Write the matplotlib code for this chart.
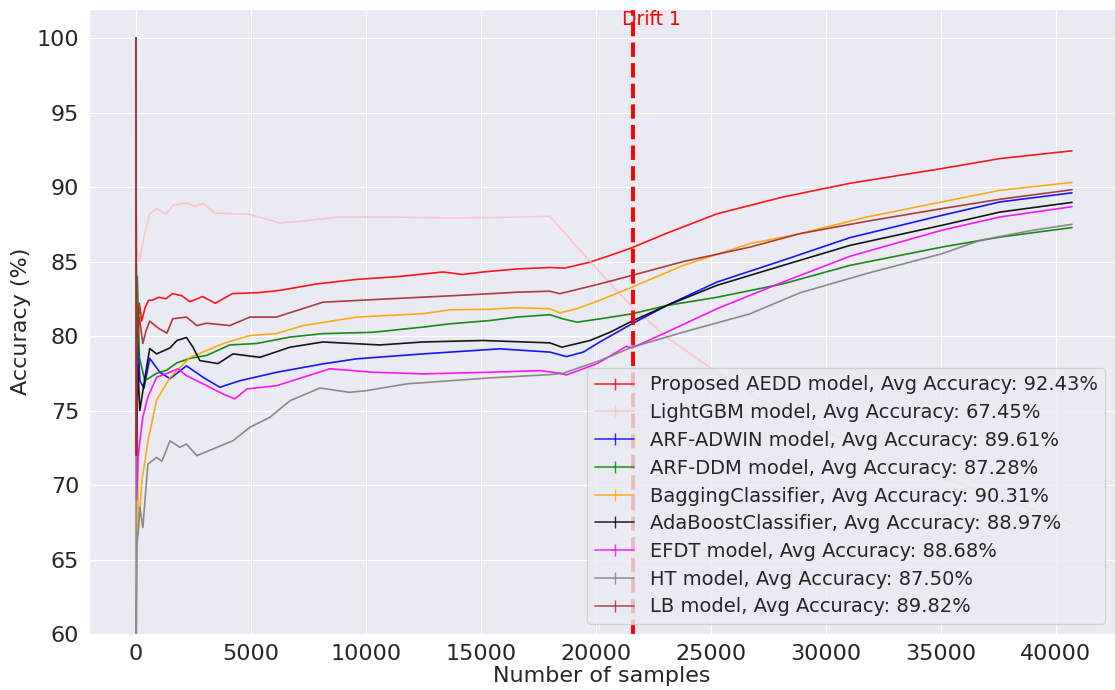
import matplotlib
matplotlib.use("Agg")
import matplotlib.pyplot as plt
from matplotlib.lines import Line2D
import seaborn as sns

# accuracy curves (samples, accuracy %)
aedd_x = [0, 20, 60, 100, 150, 250, 400, 550, 700, 1000, 1300, 1600, 2000, 2350, 2900, 3450, 4200, 5250,
          6250, 7870, 9600, 11500, 13350, 14200, 15100, 16550, 18000, 18650, 19740, 20600, 21570, 23080,
          25260, 28130, 31040, 35040, 37570, 40700]
aedd_y = [100, 76, 82, 80.6, 82.2, 81.0, 81.9, 82.4, 82.4, 82.6, 82.5, 82.85, 82.7, 82.3, 82.65, 82.2, 82.85, 82.9,
          83.06, 83.5, 83.8, 84.0, 84.3, 84.13, 84.3, 84.5, 84.6, 84.56, 84.96, 85.4, 85.93, 86.9,
          88.2, 89.33, 90.25, 91.24, 91.91, 92.43]

lgbm_x = [0, 15, 50, 150, 390, 600, 900, 1330, 1600, 2200, 2560, 2920, 3430, 4220, 4950, 6260, 7570, 8870,
          11040, 13650, 15400, 16550, 18000, 19450, 20900, 21570, 23080, 25260, 28130, 34220, 40700]
lgbm_y = [100, 90, 85.75, 85, 86.9, 88.2, 88.55, 88.2, 88.77, 88.93, 88.7, 88.89, 88.26, 88.2, 88.17, 87.58, 87.76, 87.99,
          87.99, 87.92, 87.95, 87.99, 88.03, 85.52, 83.06, 81.98, 79.92, 77.57, 74.77, 70.96, 67.45]

adwin_x = [0, 20, 80, 170, 350, 600, 1040, 1480, 2200, 2920, 3650, 4520, 6130, 8130, 9600, 12480, 13650, 15830,
           18000, 18720, 19450, 20170, 21570, 23080, 25260, 28130, 31040, 35040, 37570, 40700]
adwin_y = [100, 72, 80, 77, 76.5, 78.5, 77.57, 77.14, 78.0, 77.23, 76.56, 77.0, 77.57, 78.13, 78.47, 78.8, 78.92, 79.14,
           78.92, 78.62, 78.92, 79.6, 80.82, 82.05, 83.62, 85.08, 86.6, 88.1, 89.0, 89.61]

ddm_x = [0, 20, 60, 150, 390, 900, 1330, 1780, 2350, 3080, 4080, 5250, 6700, 8130, 10300, 12480, 13650, 15400,
         16550, 18000, 18570, 19170, 20170, 21570, 23080, 25260, 28130, 31040, 35040, 37570, 40700]
ddm_y = [100, 80, 84, 78.56, 77, 77.5, 77.7, 78.2, 78.5, 78.7, 79.4, 79.5, 79.93, 80.16, 80.25, 80.6, 80.82, 81.04,
         81.27, 81.43, 81.15, 80.93, 81.15, 81.49, 82.05, 82.6, 83.5, 84.74, 85.97, 86.64, 87.28]

bag_x = [0, 20, 100, 260, 530, 900, 1480, 2350, 3800, 4950, 6100, 7270, 9600, 12500, 13650, 15400, 16550, 18000,
         18430, 19170, 20170, 21570, 23800, 26700, 28870, 31780, 35040, 37570, 40700]
bag_y = [100, 80, 66.7, 70.3, 73, 75.7, 77.2, 78.56, 79.5, 80.03, 80.16, 80.7, 81.27, 81.5, 81.76, 81.8, 81.9, 81.83,
         81.56, 81.83, 82.4, 83.28, 84.74, 86.2, 86.87, 87.99, 89.0, 89.78, 90.31]

ada_x = [0, 20, 80, 170, 390, 600, 900, 1480, 1780, 2200, 2480, 2780, 3570, 4220, 5390, 6700, 8130, 10610, 12480,
         15100, 18000, 18520, 19740, 20610, 21570, 23080, 25260, 28130, 31040, 35040, 37570, 40700]
ada_y = [100, 72, 78, 75, 77.2, 79.16, 78.8, 79.2, 79.7, 79.9, 79.25, 78.35, 78.15, 78.8, 78.57, 79.25, 79.6, 79.4, 79.6,
         79.7, 79.54, 79.25, 79.7, 80.25, 81.0, 82.05, 83.4, 84.74, 86.08, 87.43, 88.32, 88.97]

efdt_x = [0, 30, 100, 300, 520, 900, 1480, 1830, 2200, 2920, 3800, 4300, 4830, 6130, 7270, 8430, 10300, 12480,
          15400, 17570, 18430, 18720, 20030, 21330, 21570, 23080, 25260, 28130, 31040, 35040, 37570, 40700]
efdt_y = [100, 69, 72, 74.55, 75.9, 77.23, 77.57, 77.8, 77.34, 76.79, 76.1, 75.78, 76.45, 76.67, 77.23, 77.8, 77.57, 77.46,
          77.57, 77.68, 77.5, 77.39, 78.13, 79.31, 79.2, 80.26, 81.83, 83.62, 85.35, 87.1, 87.99, 88.68]

ht_x = [0, 10, 50, 170, 300, 520, 900, 1130, 1480, 1910, 2200, 2650, 3520, 4220, 4950, 5830, 6700, 8000, 9300,
        10040, 11780, 15400, 18000, 18570, 20170, 21570, 23800, 26700, 28870, 31780, 35040, 36700, 39000, 40700]
ht_y = [100, 58, 66, 68.5, 67.15, 71.4, 71.85, 71.6, 72.97, 72.53, 72.75, 71.97, 72.53, 72.97, 73.87, 74.55, 75.66, 76.51, 76.22,
        76.34, 76.79, 77.19, 77.41, 77.5, 78.35, 79.25, 80.26, 81.49, 82.9, 84.2, 85.52, 86.42, 87.1, 87.5]

lb_x = [0, 20, 60, 150, 300, 450, 600, 1000, 1350, 1600, 2200, 2650, 3080, 4080, 4950, 6100, 8130, 11040, 13950,
        15400, 16550, 18000, 18430, 20170, 21570, 23800, 26700, 28870, 31780, 35040, 37570, 40700]
lb_y = [100, 72, 80, 81.25, 79.5, 80.4, 81.0, 80.5, 80.2, 81.16, 81.27, 80.7, 80.86, 80.7, 81.27, 81.27, 82.27, 82.5, 82.72,
        82.84, 82.94, 83.01, 82.84, 83.5, 84.07, 85.0, 85.97, 86.87, 87.7, 88.55, 89.18, 89.82]

labels = ["Proposed AEDD model", "LightGBM model", "ARF-ADWIN model", "ARF-DDM model",
          "BaggingClassifier", "AdaBoostClassifier", "EFDT model", "HT model", "LB model"]
avg_acc = [92.43, 67.45, 89.61, 87.28, 90.31, 88.97, 88.68, 87.50, 89.82]
colors = ["red", "pink", "blue", "green", "orange", "black", "magenta", "gray", "brown"]
drift_at = 21600

series = [(aedd_x, aedd_y), (lgbm_x, lgbm_y), (adwin_x, adwin_y), (ddm_x, ddm_y), (bag_x, bag_y),
          (ada_x, ada_y), (efdt_x, efdt_y), (ht_x, ht_y), (lb_x, lb_y)]

sns.set_style("darkgrid")
fig = plt.figure(figsize=(11.15, 6.9), dpi=100)
ax = fig.add_axes([89 / 1115, 1 - 634 / 690, 1 - 89 / 1115, 625 / 690])

handles = []
for (xs, ys), lab, acc, c in zip(series, labels, avg_acc, colors):
    ax.plot(xs, ys, color=c, lw=1.2, alpha=0.9)
    handles.append(Line2D([], [], color=c, lw=1.2, alpha=0.8, marker="|", markersize=9,
                          label=f"{lab}, Avg Accuracy: {acc:.2f}%"))

ax.axvline(drift_at, color="red", linestyle="--", lw=2.8)
ax.text(drift_at + 800, 100.85, "Drift 1", color="red", fontsize=13.5, ha="center", va="baseline")

ax.set_xlim(-2040, 42570)
ax.set_ylim(60, 101.95)
ax.set_xlabel("Number of samples", fontsize=16, labelpad=2)
ax.set_ylabel("Accuracy (%)", fontsize=16)
ax.tick_params(labelsize=16)
ax.legend(handles=handles, loc="lower right", fontsize=14, labelspacing=0.45)

fig.savefig("out.png", dpi=100)
